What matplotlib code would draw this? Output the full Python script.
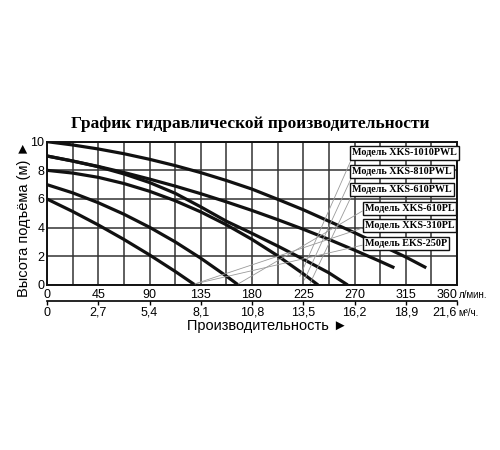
import matplotlib
matplotlib.use("Agg")
import matplotlib.pyplot as plt
import numpy as np

# flow, l/min  ->  head, m
flow_1010pwl = [0, 22.5, 45, 67.5, 90, 112.5, 135, 157.5, 180, 202.5, 225, 247.5, 270, 292.5, 315, 333]
head_1010pwl = [10, 9.77, 9.49, 9.16, 8.77, 8.33, 7.84, 7.29, 6.69, 5.98, 5.25, 4.45, 3.65, 2.8, 1.95, 1.2]

flow_810pwl = [0, 22.5, 45, 67.5, 90, 112.5, 135, 157.5, 180, 202.5, 225, 247.5, 270, 292.5, 305]
head_810pwl = [9, 8.65, 8.27, 7.85, 7.39, 6.9, 6.37, 5.8, 5.2, 4.56, 3.89, 3.18, 2.43, 1.65, 1.2]

flow_610pwl = [0, 22.5, 45, 67.5, 90, 112.5, 135, 157.5, 180, 202.5, 225, 247.5, 264]
head_610pwl = [9, 8.65, 8.25, 7.75, 7.15, 6.4, 5.45, 4.45, 3.6, 2.72, 1.8, 0.85, 0]

flow_610pl = [0, 22.5, 45, 67.5, 90, 112.5, 135, 157.5, 180, 202.5, 225, 238]
head_610pl = [8, 7.81, 7.51, 7.08, 6.54, 5.88, 5.1, 4.2, 3.18, 2.04, 0.78, 0]

flow_310pl = [0, 22.5, 45, 67.5, 90, 112.5, 135, 157.5, 168]
head_310pl = [7, 6.43, 5.74, 4.94, 4.03, 3.01, 1.87, 0.62, 0]

flow_eks250p = [0, 22.5, 45, 67.5, 90, 112.5, 130]
head_eks250p = [6, 5.13, 4.19, 3.18, 2.1, 0.95, 0]

models = ["Модель XKS-1010PWL", "Модель XKS-810PWL", "Модель XKS-610PWL",
          "Модель XKS-610PL", "Модель XKS-310PL", "Модель EKS-250P"]

# where each label box sits and where its thin leader line ends
label_pos = [(268, 9.21), (268, 7.91), (268, 6.63), (279, 5.35), (279, 4.12), (279, 2.91)]
leader_to = [(222, 0.6), (226, 0.35), (231, 0.12), (168, 0.08), (130, 0.08), (130, 0.08)]

flow_ticks = [0, 45, 90, 135, 180, 225, 270, 315, 360]
m3h_ticks = [0, 2.7, 5.4, 8.1, 10.8, 13.5, 16.2, 18.9, 21.6]

sans = ["Liberation Sans", "DejaVu Sans"]
serif = ["Liberation Serif", "DejaVu Serif"]

fig = plt.figure(figsize=(5, 4.5), dpi=100)
ax = fig.add_axes([0.094, 0.3667, 0.82, 0.3185])

curves = [(flow_1010pwl, head_1010pwl), (flow_810pwl, head_810pwl), (flow_610pwl, head_610pwl),
          (flow_610pl, head_610pl), (flow_310pl, head_310pl), (flow_eks250p, head_eks250p)]
for q, h in curves:
    ax.plot(q, h, color="#111111", lw=2.3, solid_capstyle="butt", zorder=4)

ax.set_xlim(0, 360)
ax.set_ylim(0, 10)
ax.set_xticks(flow_ticks)
ax.set_xticks(np.arange(0, 361, 22.5), minor=True)
ax.set_yticks([0, 2, 4, 6, 8, 10])
ax.grid(which="both", color="#333333", lw=1.1, zorder=1)
ax.set_axisbelow(True)
ax.tick_params(which="both", length=0)
ax.tick_params(axis="x", pad=3)
ax.tick_params(axis="y", pad=2)
for lab in ax.get_xticklabels() + ax.get_yticklabels():
    lab.set_family(sans)
    lab.set_fontsize(9)
ax.get_xticklabels()[-1].set_ha("right")
ax.get_xticklabels()[-1].set_x(361)
for s in ax.spines.values():
    s.set_color("#111111")
    s.set_linewidth(1.4)

# second scale, m3/h
sec = ax.secondary_xaxis(-0.112, functions=(lambda q: q * 0.06, lambda m: m / 0.06))
sec.set_xticks(m3h_ticks)
sec.set_xticklabels([("%g" % v).replace(".", ",") for v in m3h_ticks])
sec.tick_params(length=3, width=1, pad=1, direction="out")
for lab in sec.get_xticklabels():
    lab.set_family(sans)
    lab.set_fontsize(9)
sec.get_xticklabels()[-1].set_ha("right")
sec.spines["bottom"].set_linewidth(1.2)

ax.annotate("л/мин.", xy=(1, 0), xycoords="axes fraction", xytext=(1.5, -9.6),
            textcoords="offset points", fontsize=7, family=sans, va="baseline", ha="left")
ax.annotate("м³/ч.", xy=(1, -0.112), xycoords="axes fraction", xytext=(1, -10.6),
            textcoords="offset points", fontsize=7, family=sans, va="baseline", ha="left")

# model labels with leader lines
for name, (bx, by), (tx, ty) in zip(models, label_pos, leader_to):
    rp = (0, 0) if "PWL" in name else (0, 0.35)
    ax.annotate(name, xy=(tx, ty), xytext=(bx, by), ha="left", va="center",
                fontsize=7.3, fontweight="bold", family=serif, zorder=6,
                bbox=dict(boxstyle="square,pad=0.2", fc="white", ec="#111111", lw=1),
                arrowprops=dict(arrowstyle="-", color="#9a9a9a", lw=0.6,
                                shrinkA=0, shrinkB=0, relpos=rp),
                annotation_clip=False)

fig.text(0.5, 0.724, "График гидравлической производительности", ha="center", va="center",
         fontsize=12.5, fontweight="bold", family=serif)
fig.text(0.048, 0.514, "Высота подъёма (м) ►", rotation=90, ha="center", va="center",
         fontsize=10.5, family=sans)
fig.text(0.534, 0.276, "Производительность ►", ha="center", va="center",
         fontsize=10.5, family=sans)

fig.savefig("out.png", dpi=100, facecolor="white")
